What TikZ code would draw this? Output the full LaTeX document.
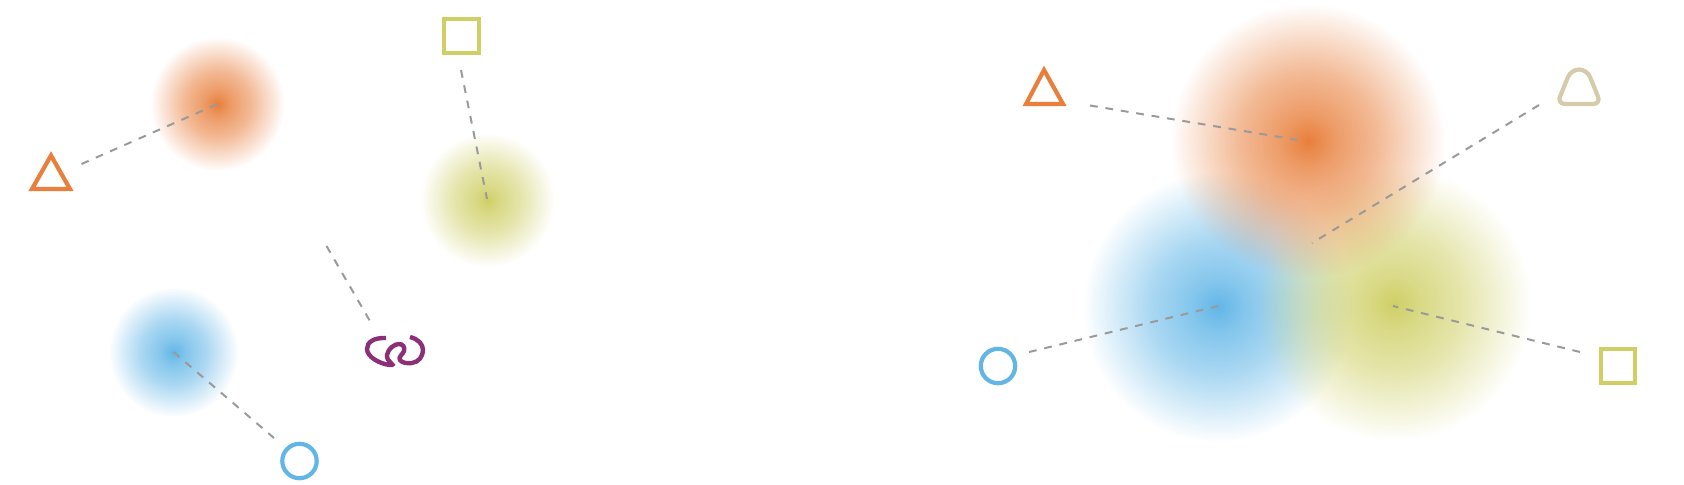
\documentclass[tikz,border=0pt]{standalone}
\usetikzlibrary{fadings}
\definecolor{cOrange}{HTML}{E87F3C}
\definecolor{cBlue}{HTML}{62B6E7}
\definecolor{cGreen}{HTML}{CFCF66}
\definecolor{cTan}{HTML}{D6CBA8}
\definecolor{cPurple}{HTML}{8A2F78}
\definecolor{cDash}{HTML}{9A9A9A}
\pgfdeclareradialshading{glowshade}{\pgfpointorigin}{%
 color(0bp)=(pgftransparent!0);
 color(5bp)=(pgftransparent!22);
 color(12.5bp)=(pgftransparent!46);
 color(20bp)=(pgftransparent!78);
 color(25bp)=(pgftransparent!100);
 color(50bp)=(pgftransparent!100)}
\pgfdeclarefading{glow}{\pgfuseshading{glowshade}}
\tikzset{
 blob/.style={circle,inner sep=0pt,minimum size=#1,path fading=glow,fit fading=true},
 lead/.style={draw=cDash,line width=1pt,dash pattern=on 3.9pt off 3.9pt},
 mark stroke/.style={line width=2.1pt,miter limit=10,fill=none},
 sq/.style={draw=cGreen,line width=2.1pt,rectangle,inner sep=0pt,minimum size=17.2pt},
 ring/.style={draw=cBlue,line width=2.1pt,circle,inner sep=0pt,minimum size=17.2pt},
}
\begin{document}
\begin{tikzpicture}[x=0.5pt,y=-0.5pt]
\useasboundingbox (0,0) rectangle (1684,484);
% left blobs
\node[blob=67pt,fill=cOrange] (oL) at (217.5,104) {};
\node[blob=67pt,fill=cGreen] (gL) at (487.5,200) {};
\node[blob=65pt,fill=cBlue] (bL) at (173.5,352) {};
% right blobs
\node[blob=135pt,fill=cBlue] (bR) at (1218,307) {};
\node[blob=137pt,fill=cGreen] (gR) at (1394,304) {};
\node[blob=137pt,fill=cOrange] (oR) at (1308,141) {};
% left marks
\draw[mark stroke,draw=cOrange] (32,189) -- (51,155.5) -- (70,189) -- cycle;
\node[sq] (sL) at (461.5,36) {};
\node[ring] (cL) at (299.5,461) {};
\draw[line width=2.2pt,draw=cPurple,fill=none,line cap=butt]
  (386,338) .. controls (374,337.5) and (367,342) .. (367,349)
  .. controls (367,357) and (380,364) .. (390,365)
  .. controls (397,365.5) and (386,362) .. (387,355)
  .. controls (388,349) and (394,344) .. (399,344)
  .. controls (403,344) and (405,347) .. (404,351)
  .. controls (403,354) and (398,357) .. (400,360)
  .. controls (402,363) and (407,363.5) .. (412,363)
  .. controls (419,362) and (423,356) .. (423,350)
  .. controls (423,344) and (418,339) .. (410,337);
% right marks
\draw[mark stroke,draw=cOrange] (1026,104) -- (1044,70) -- (1063,104) -- cycle;
\node[ring] (cR) at (998,366) {};
\node[sq] (sR) at (1618,366) {};
\draw[draw=cTan,line width=2.1pt,rounded corners=4pt] (1571,69.5) -- (1587,69.5) -- (1601,104) -- (1557,104) -- cycle;
% leader ends
\coordinate (tL1) at (81.5,164);
\coordinate (oL1) at (217.5,104);
\coordinate (sL1) at (461,70);
\coordinate (gL1) at (487,199);
\coordinate (bL1) at (173.5,352);
\coordinate (cL1) at (274,438);
\coordinate (pA) at (326.5,246);
\coordinate (pB) at (370.5,322);
\coordinate (tR1) at (1090,105.5);
\coordinate (oR1) at (1304,141);
\coordinate (qR1) at (1539,105);
\coordinate (qR2) at (1312,243);
\coordinate (cR1) at (1029,352);
\coordinate (bR1) at (1218,306);
\coordinate (sR1) at (1580,352);
\coordinate (gR1) at (1393,306);
\draw[lead] (tL1) -- (oL1);
\draw[lead] (sL1) -- (gL1);
\draw[lead] (bL1) -- (cL1);
\draw[lead] (pA) -- (pB);
\draw[lead] (tR1) -- (oR1);
\draw[lead] (qR1) -- (qR2);
\draw[lead] (cR1) -- (bR1);
\draw[lead] (sR1) -- (gR1);
\end{tikzpicture}
\end{document}
